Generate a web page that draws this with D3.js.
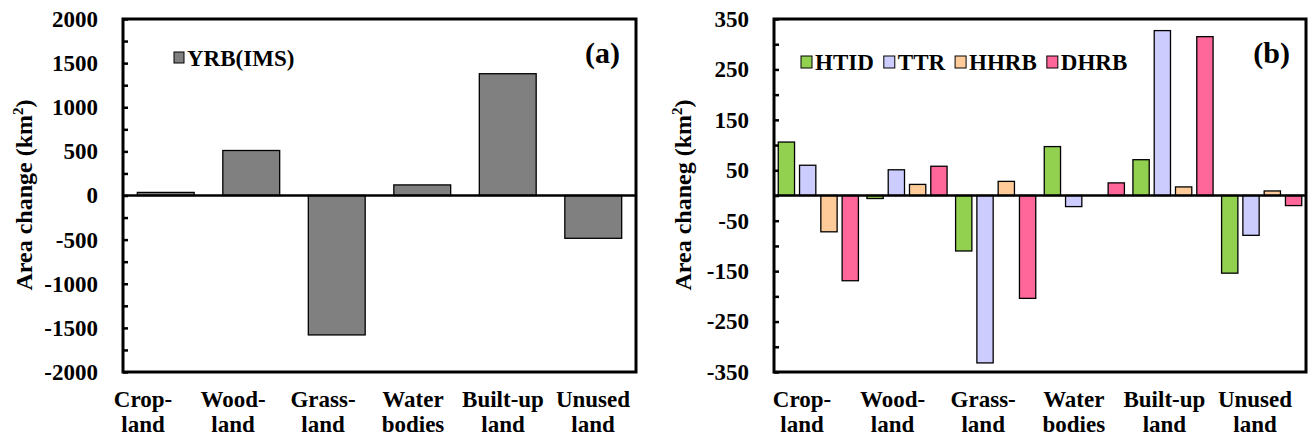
<!DOCTYPE html>
<html>
<head>
<meta charset="utf-8">
<script src="https://cdn.jsdelivr.net/npm/d3@7"></script>
<style>
  html, body { margin: 0; padding: 0; background: #ffffff; }
  svg { display: block; font-family: "Liberation Serif", "Times New Roman", serif; font-weight: bold; }
</style>
</head>
<body>
<svg id="chart" width="1309" height="439"></svg>
<script>
// ---- data -------------------------------------------------------------
const categories = ["Cropland", "Woodland", "Grassland", "Water bodies", "Built-up land", "Unused land"];
const categoryLines = [["Crop-", "land"], ["Wood-", "land"], ["Grass-", "land"], ["Water", "bodies"], ["Built-up", "land"], ["Unused", "land"]];

// panel (a): whole basin
const yrbIMS = [35, 510, -1580, 120, 1380, -485];

// panel (b): sub-regions
const seriesNames = ["HTID", "TTR", "HHRB", "DHRB"];
const htid = [106, -6, -110, 97, 71, -154];
const ttr  = [60, 51, -332, -22, 327, -79];
const hhrb = [-72, 22, 28, 0, 17, 9];
const dhrb = [-169, 58, -204, 25, 315, -20];

const ticksA = [2000, 1500, 1000, 500, 0, -500, -1000, -1500, -2000];
const ticksB = [350, 250, 150, 50, -50, -150, -250, -350];

// ---- styling ------------------------------------------------------------
const seriesColors = { "HTID": "#92D050", "TTR": "#CCCCFF", "HHRB": "#FFCC99", "DHRB": "#FF6699" };
const grey = "#808080";
const fontSize = 23;

const svg = d3.select("#chart");

function drawPanel(opts) {
  const { x0, x1, top, bottom, domain, majorTicks, minorStep, labelRange, title, tag } = opts;
  const g = svg.append("g");
  const y = d3.scaleLinear().domain(domain).range([bottom, top]);

  const xBand = d3.scaleBand().domain(categories).range([x0, x1])
    .paddingInner(opts.bandPadInner).paddingOuter(opts.bandPadOuter);

  // bars
  opts.drawBars(g, xBand, y);

  // zero line
  g.append("line")
    .attr("x1", x0).attr("x2", x1)
    .attr("y1", y(0)).attr("y2", y(0))
    .attr("stroke", "#000").attr("stroke-width", 2.5);

  // inward tick marks
  const minor = d3.range(domain[0], domain[1] + minorStep / 2, minorStep);
  const tickAxis = d3.axisRight(y).tickValues(minor).tickSize(5).tickFormat("");
  const ta = g.append("g").attr("transform", `translate(${x0},0)`).call(tickAxis);
  ta.select(".domain").remove();
  ta.selectAll("line").attr("stroke", "#000").attr("stroke-width", 2.5);

  // tick labels
  const labelAxis = d3.axisLeft(y).tickValues(majorTicks).tickSize(0).tickPadding(25)
    .tickFormat(d => String(d));
  const la = g.append("g").attr("transform", `translate(${x0},0)`).call(labelAxis);
  la.select(".domain").remove();
  la.selectAll("text")
    .attr("font-family", "Liberation Serif, Times New Roman, serif")
    .attr("font-weight", "bold")
    .attr("font-size", fontSize)
    .attr("fill", "#000");

  // frame
  g.append("rect")
    .attr("x", x0).attr("y", top)
    .attr("width", x1 - x0).attr("height", bottom - top)
    .attr("fill", "none").attr("stroke", "#000").attr("stroke-width", 3);

  // category labels (two lines each)
  const xl = d3.scalePoint().domain(categories).range(labelRange);
  const cl = g.append("g");
  categories.forEach((c, i) => {
    const t = cl.append("text")
      .attr("text-anchor", "middle")
      .attr("font-size", fontSize)
      .attr("fill", "#000");
    t.append("tspan").attr("x", xl(c)).attr("y", 407).text(categoryLines[i][0]);
    t.append("tspan").attr("x", xl(c)).attr("y", 432).text(categoryLines[i][1]);
  });

  // y title
  const tt = g.append("text")
    .attr("transform", `translate(${opts.titleX},195) rotate(-90)`)
    .attr("text-anchor", "middle")
    .attr("font-size", 24)
    .attr("fill", "#000");
  tt.append("tspan").text(title + " (km");
  tt.append("tspan").attr("font-size", 15).attr("dy", -9).text("2");
  tt.append("tspan").attr("dy", 9).text(")");

  // panel tag
  g.append("text")
    .attr("x", x1 - 16).attr("y", 63)
    .attr("text-anchor", "end")
    .attr("font-size", 30)
    .attr("fill", "#000")
    .text(tag);

  return g;
}

// ---- panel (a) ----------------------------------------------------------
const gA = drawPanel({
  x0: 123, x1: 636, top: 19, bottom: 372,
  domain: [-2000, 2000], majorTicks: ticksA, minorStep: 250,
  bandPadInner: 0.335, bandPadOuter: 0.1675,
  labelRange: [143, 593],
  title: "Area change", tag: "(a)", titleX: 32,
  drawBars: (g, x, y) => {
    g.append("g").selectAll("rect")
      .data(categories.map((c, i) => ({ c, v: yrbIMS[i] })))
      .join("rect")
      .attr("x", d => x(d.c))
      .attr("width", x.bandwidth())
      .attr("y", d => y(Math.max(0, d.v)))
      .attr("height", d => Math.abs(y(d.v) - y(0)))
      .attr("fill", grey)
      .attr("stroke", "#000").attr("stroke-width", 1.3);
  }
});

// legend (a)
const legA = gA.append("g");
legA.append("rect").attr("x", 174).attr("y", 52).attr("width", 10).attr("height", 11)
  .attr("fill", grey).attr("stroke", "#000").attr("stroke-width", 1);
legA.append("text").attr("x", 187).attr("y", 57.5).attr("dy", "0.35em")
  .attr("font-size", fontSize).attr("fill", "#000").text("YRB(IMS)");

// ---- panel (b) ----------------------------------------------------------
const seriesValues = { "HTID": htid, "TTR": ttr, "HHRB": hhrb, "DHRB": dhrb };

const gB = drawPanel({
  x0: 774, x1: 1306, top: 19, bottom: 372,
  domain: [-350, 350], majorTicks: ticksB, minorStep: 50,
  bandPadInner: 0, bandPadOuter: 0,
  labelRange: [802, 1255],
  title: "Area chaneg", tag: "(b)", titleX: 691,
  drawBars: (g, x, y) => {
    const xs = d3.scaleBand().domain(seriesNames).range([0, x.bandwidth()])
      .paddingInner(0.235).paddingOuter(0.2);
    const groups = g.append("g").selectAll("g")
      .data(categories)
      .join("g")
      .attr("transform", c => `translate(${x(c)},0)`);
    groups.selectAll("rect")
      .data((c, i) => seriesNames.map(s => ({ s, v: seriesValues[s][i] })))
      .join("rect")
      .attr("x", d => xs(d.s))
      .attr("width", xs.bandwidth())
      .attr("y", d => y(Math.max(0, d.v)))
      .attr("height", d => Math.abs(y(d.v) - y(0)))
      .attr("fill", d => seriesColors[d.s])
      .attr("stroke", "#000").attr("stroke-width", 1.3);
  }
});

// legend (b): entries laid out left to right from measured text widths
const legB = gB.append("g");
let lx = 801;
seriesNames.forEach(s => {
  legB.append("rect").attr("x", lx).attr("y", 56).attr("width", 11).attr("height", 12)
    .attr("fill", seriesColors[s]).attr("stroke", "#000").attr("stroke-width", 1);
  const t = legB.append("text").attr("x", lx + 14).attr("y", 62).attr("dy", "0.35em")
    .attr("font-size", fontSize).attr("fill", "#000").text(s);
  lx += 14 + t.node().getComputedTextLength() + 10;
});
</script>
</body>
</html>
